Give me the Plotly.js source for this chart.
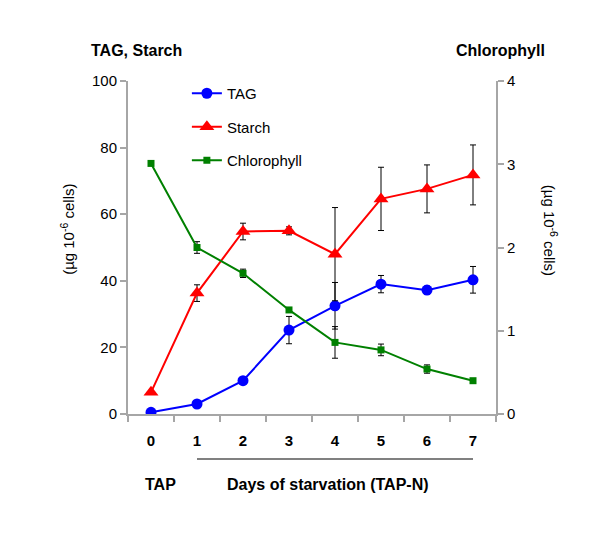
<!DOCTYPE html>
<html><head><meta charset="utf-8">
<script src="https://cdn.plot.ly/plotly-3.0.1.min.js"></script>
<style>body{margin:0;background:#fff}</style>
</head><body>
<div id="chart" style="width:600px;height:540px"></div>
<script>
const days = ["0","1","2","3","4","5","6","7"];
const tag = [0.5, 3, 10, 25.2, 32.5, 39, 37.2, 40.3];
const tagErr = [0, 0, 0, 4.1, 7, 2.6, 1.2, 4];
const starch = [6.5, 36.3, 54.8, 55, 48, 64.6, 67.6, 71.8];
const starchErr = [0, 2.5, 2.5, 1.2, 14, 9.5, 7.2, 9];
const chl = [3.01, 2.0, 1.69, 1.25, 0.86, 0.77, 0.54, 0.40];
const chlErr = [0, 0.07, 0.05, 0, 0.19, 0.07, 0.05, 0.02];

const FONT = "Liberation Sans, Arial, sans-serif";
const GREY = "#a6a6a6";
const errStyle = a => ({type:"data", array:a, visible:true, color:"#000", thickness:1, width:3});

const traces = [
  {x:days, y:tag, name:"TAG", type:"scatter", mode:"lines+markers", legendgroup:"a",
   line:{color:"#0000ff", width:2}, marker:{symbol:"circle", size:11, color:"#0000ff"},
   error_y:errStyle(tagErr)},
  {x:days, y:starch, name:"Starch", type:"scatter", mode:"lines+markers", legendgroup:"b",
   line:{color:"#ff0000", width:2}, marker:{symbol:"triangle-up", size:13, color:"#ff0000"},
   error_y:errStyle(starchErr)},
  {x:days, y:chl, name:"Chlorophyll", type:"scatter", mode:"lines+markers", yaxis:"y2", legendgroup:"c",
   line:{color:"#008000", width:2}, marker:{symbol:"square", size:7, color:"#008000"},
   error_y:errStyle(chlErr)}
];

const ann = (text, x, y, size, extra) => Object.assign({text, xref:"paper", yref:"paper", x, y,
  xanchor:"center", yanchor:"middle", showarrow:false, font:{family:FONT, size, color:"#000"}}, extra || {});

const layout = {
  width:600, height:540,
  margin:{l:128, r:104, t:81, b:126},
  paper_bgcolor:"#fff", plot_bgcolor:"#fff",
  font:{family:FONT, size:14, color:"#000"},
  showlegend:true,
  legend:{x:0.16, y:1.012, xanchor:"left", yanchor:"top", bgcolor:"rgba(0,0,0,0)",
          font:{family:FONT, size:15}, traceorder:"grouped", tracegroupgap:11, itemwidth:30},
  xaxis:{type:"category", range:[-0.5,7.5], showline:true, linecolor:GREY, linewidth:2,
         ticks:"outside", tickson:"boundaries", ticklen:6, tickcolor:GREY, tickwidth:2,
         showgrid:false, zeroline:false, ticklabelstandoff:12,
         tickfont:{family:FONT, size:15, color:"#000", weight:"bold"}},
  yaxis:{range:[0,100], dtick:20, showline:true, linecolor:GREY, linewidth:2,
         ticks:"outside", ticklen:6, tickcolor:GREY, tickwidth:2, showgrid:false, zeroline:false,
         tickfont:{family:FONT, size:15, color:"#000"}},
  yaxis2:{range:[0,4], dtick:1, overlaying:"y", side:"right", showline:true, linecolor:GREY, linewidth:2,
          ticks:"outside", ticklen:6, tickcolor:GREY, tickwidth:2, showgrid:false, zeroline:false,
          tickfont:{family:FONT, size:15, color:"#000"}},
  shapes:[{type:"line", xref:"x", yref:"paper", x0:1, x1:7, y0:-0.135, y1:-0.135,
           line:{color:"#808080", width:2}}],
  annotations:[
    ann("<b>TAG, Starch</b>", 0.023, 1.091, 16),
    ann("<b>Chlorophyll</b>", 1.012, 1.091, 16),
    ann("(µg 10<sup>-6</sup> cells)", -0.163, 0.553, 15, {textangle:-90}),
    ann("(µg 10<sup>-6</sup> cells)", 1.147, 0.553, 15, {textangle:90}),
    ann("<b>TAP</b>", 0.087, -0.213, 16),
    ann("<b>Days of starvation (TAP-N)</b>", 0.543, -0.213, 16)
  ]
};
Plotly.newPlot("chart", traces, layout, {displayModeBar:false});
</script>
</body></html>
